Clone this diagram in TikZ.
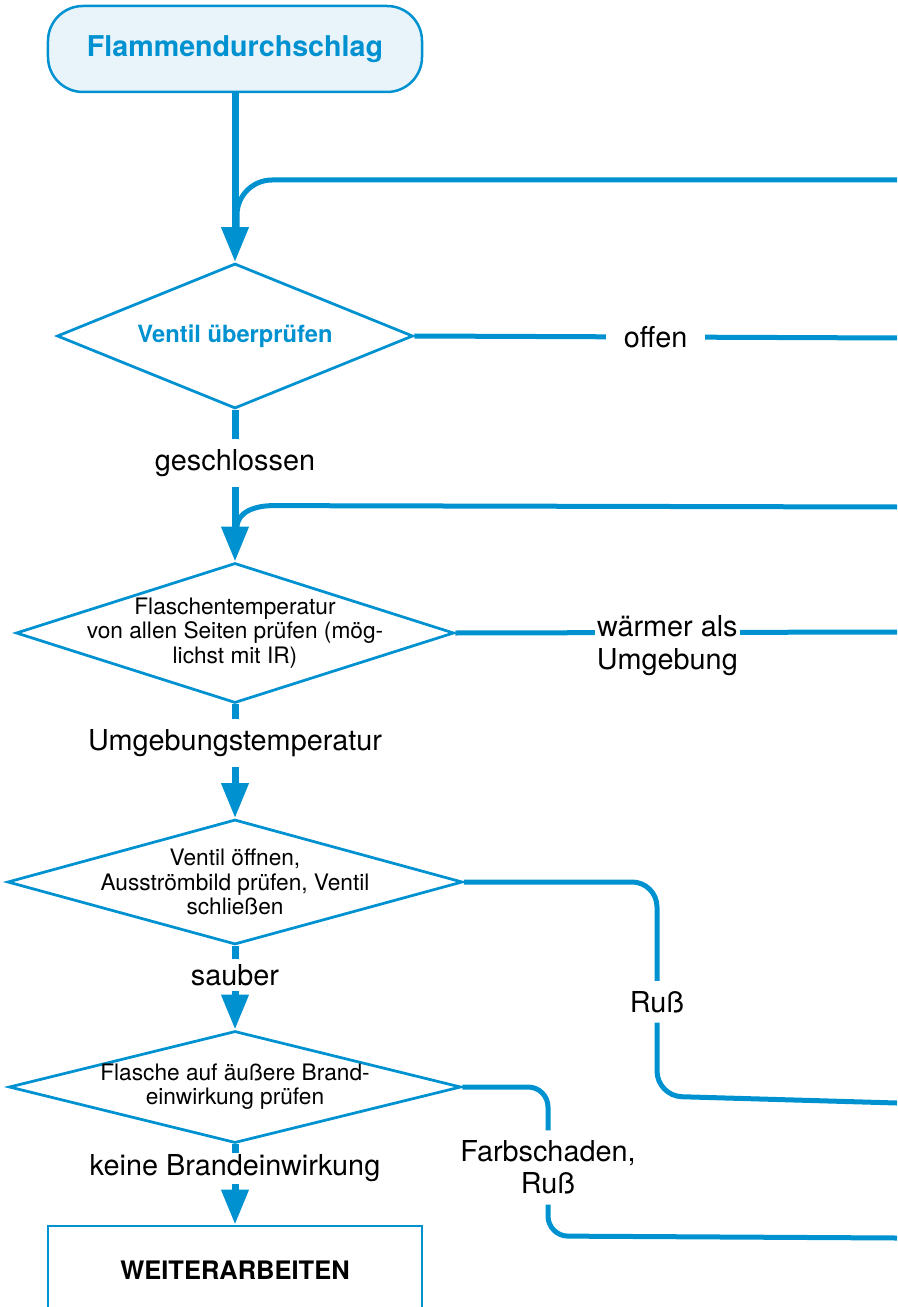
\documentclass[tikz,border=0pt]{standalone}
\usepackage{fontspec}
\setmainfont{TeX Gyre Heros}
\usetikzlibrary{shapes.geometric, arrows.meta, positioning, calc}
\definecolor{dblue}{RGB}{0,146,208}
\definecolor{lblue}{RGB}{232,243,250}

\begin{document}
\begin{tikzpicture}[x=0.2mm, y=-0.2mm,
    start/.style={draw=dblue, fill=lblue, line width=0.5mm, rounded corners=7mm, minimum width=74.8mm, minimum height=17.2mm, text=dblue, font=\fontsize{16.3}{19}\selectfont\bfseries},
    decision/.style={diamond, draw=dblue, line width=0.55mm, inner sep=0pt},
    dtext/.style={align=center, font=\fontsize{12.9}{13.8}\selectfont},
    lbl/.style={fill=white, align=center, font=\fontsize{16.4}{18.5}\selectfont, inner xsep=1pt, inner ysep=2mm},
    flow/.style={draw=dblue, line width=1mm},
    main/.style={draw=dblue, line width=1.4mm, -{Triangle[width=5.2mm, length=7mm]}},
    final/.style={draw=dblue, line width=0.55mm, minimum width=74.8mm, minimum height=17.6mm, font=\fontsize{14.5}{17}\selectfont\bfseries}]

\useasboundingbox (0,0) rectangle (897,1307);

% boxes
\node[start] (flamme) at (235,49) {Flammendurchschlag};
\node[decision, minimum width=71.2mm, minimum height=29mm] (ventil) at (235,336) {};
\node[decision, minimum width=87.6mm, minimum height=28mm] (temp) at (235,633) {};
\node[decision, minimum width=91mm, minimum height=25mm] (oeffnen) at (235,882) {};
\node[decision, minimum width=90.4mm, minimum height=22.4mm] (brand) at (235,1087) {};
\node[final] (weiter) at (235,1270) {WEITERARBEITEN};

\node[text=dblue, font=\fontsize{13.5}{15}\selectfont\bfseries] (ventiltxt) at (ventil) {Ventil überprüfen};
\node[dtext] (temptxt) at (temp) {Flaschentemperatur\\von allen Seiten prüfen (mög-\\lichst mit IR)};
\node[dtext] (oeffnentxt) at (oeffnen) {Ventil öffnen,\\Ausströmbild prüfen, Ventil\\schließen};
\node[dtext] (brandtxt) at (brand) {Flasche auf äußere Brand-\\einwirkung prüfen};

% ends on the right edge
\coordinate (in1) at (897,180);
\coordinate (in2) at (897,507);
\coordinate (out1) at (897,338);
\coordinate (out2) at (897,632);
\coordinate (out3) at (897,1103);
\coordinate (out4) at (897,1238);
\coordinate (russ) at (657,1096);
\coordinate (farb) at (548,1236);

% main line
\draw[main] (flamme) -- (ventil);
\draw[main] (ventil) -- node[lbl, pos=0.35]{geschlossen} (temp);
\draw[main] (temp) -- node[lbl, pos=0.34]{Umgebungstemperatur} (oeffnen);
\draw[main] (oeffnen) -- node[lbl, pos=0.35, inner ysep=1mm]{sauber} (brand);
\draw[main] (brand) -- node[lbl, pos=0.3, inner ysep=0.3mm]{keine Brandeinwirkung} (weiter);

% branches
\draw[flow, rounded corners=7mm] (in1) -| ($(ventil.north)+(2,-35)$);
\draw[flow] (in2) -- ($(temp.north)+(38,-56)$) to[out=180, in=90] ($(temp.north)+(2,-34)$);
\draw[flow] (ventil.east) -- node[lbl, inner xsep=3.6mm]{offen} (out1);
\draw[flow] (temp.east) -- node[lbl, pos=0.48, inner sep=1pt, yshift=-2.6mm]{wärmer als\\Umgebung} (out2);
\draw[flow, rounded corners=5mm] (oeffnen.east) -| node[lbl, pos=0.78]{Ruß} (russ) -- (out3);
\draw[flow, rounded corners=4mm] (brand.east) -| node[lbl, pos=0.77]{Farbschaden,\\Ruß} (farb) -- (out4);

\end{tikzpicture}
\end{document}
